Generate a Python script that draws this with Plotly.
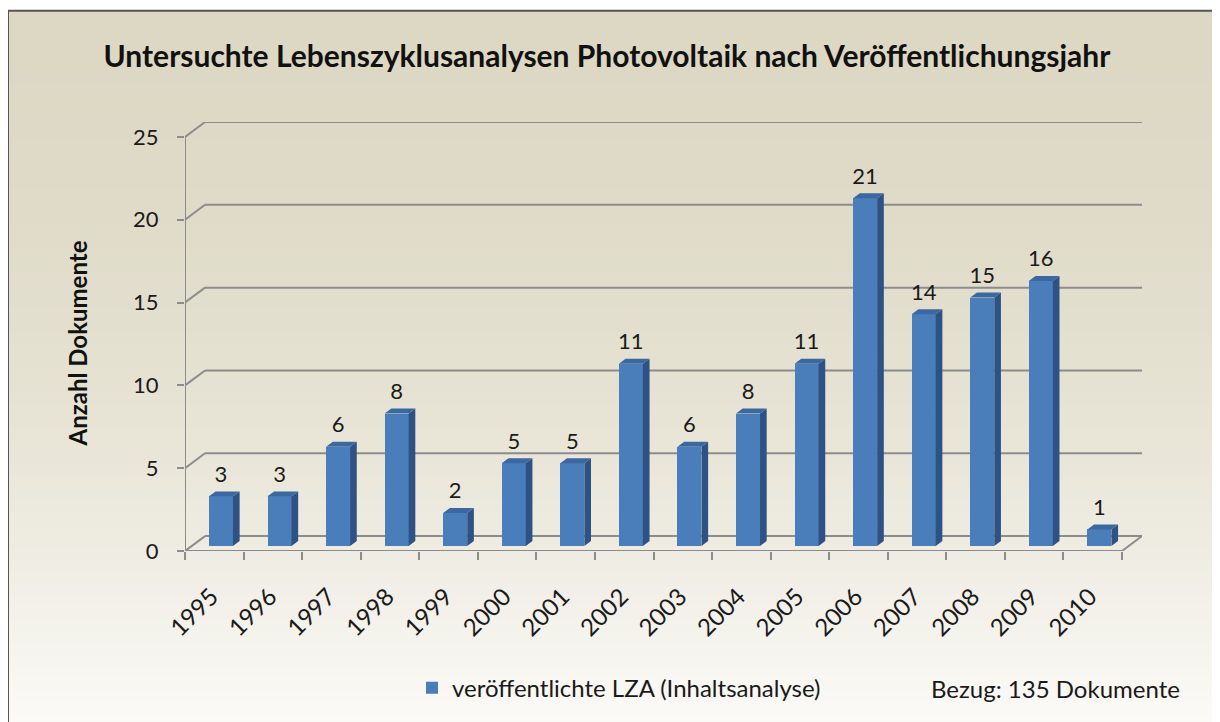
import plotly.graph_objects as go

years = ["1995", "1996", "1997", "1998", "1999", "2000", "2001", "2002",
         "2003", "2004", "2005", "2006", "2007", "2008", "2009", "2010"]
documents = [3, 3, 6, 8, 2, 5, 5, 11, 6, 8, 11, 21, 14, 15, 16, 1]
y_ticks = [0, 5, 10, 15, 20, 25]

TITLE = "Untersuchte Lebenszyklusanalysen Photovoltaik nach Veröffentlichungsjahr"
SERIES = "veröffentlichte LZA (Inhaltsanalyse)"
NOTE = "Bezug: 135 Dokumente"
YTITLE = "Anzahl Dokumente"

FONT = "Lato, 'Noto Sans', sans-serif"
TXT = "#1a1a1a"
FRONT = "#4A7EBB"
SIDE = "#2E5283"
TOP = "#3B68A0"
GRID = "#8C8C8C"

# page body adds an 8px margin, so the figure is drawn 8px smaller and everything
# below is given in window pixels and shifted by OFF
OFF = 8
W, H = 1220 - OFF, 722 - OFF
ML = 185 - OFF
MR = W - (1142 - OFF)
MT = 122 - OFF
MB = H - (554 - OFF)
plot_w = W - ML - MR
plot_h = H - MT - MB
n = len(years)


def px_x(x):  # window px -> paper x
    return (x - OFF - ML) / plot_w


def px_y(y):  # window px -> paper y
    return (H - MB - (y - OFF)) / plot_h


# pseudo-3d geometry (in axis units)
ppx = plot_w / (n + 20 / 58.5)
dxw = 20 / ppx
ppy = 417 / 25
dyw = 15 / ppy
ddx, ddy = dxw / 3, dyw / 3
bw = 0.41

fig = go.Figure()

# gradient background inside the frame
bands = 60
top_rgb = (221, 216, 196)
bot_rgb = (251, 251, 248)
y0px, y1px = 10, 730
for k in range(bands):
    a = y0px + (y1px - y0px) * k / bands
    b = y0px + (y1px - y0px) * (k + 1) / bands
    t = ((k + 0.5) / bands) ** 1.9
    c = tuple(round(top_rgb[j] + (bot_rgb[j] - top_rgb[j]) * t) for j in range(3))
    fig.add_shape(type="rect", xref="paper", yref="paper", layer="below",
                  x0=px_x(8), x1=px_x(1213), y0=px_y(b + 1), y1=px_y(a),
                  fillcolor="rgb(%d,%d,%d)" % c, line_width=0)
fig.add_shape(type="rect", xref="paper", yref="paper", layer="below",
              x0=px_x(8), x1=px_x(1213), y0=px_y(730), y1=px_y(10),
              line=dict(color="#555555", width=2), fillcolor="rgba(0,0,0,0)")

# walls / gridlines
line = dict(color=GRID, width=2)
for v in y_ticks:
    fig.add_shape(type="line", x0=dxw, x1=n + dxw, y0=v + dyw, y1=v + dyw, line=line, layer="below")
    fig.add_shape(type="line", x0=0, x1=dxw, y0=v, y1=v + dyw, line=line, layer="below")
fig.add_shape(type="line", x0=0, x1=0, y0=0, y1=25, line=line, layer="below")
fig.add_shape(type="line", x0=0, x1=n, y0=0, y1=0, line=line, layer="below")
fig.add_shape(type="line", x0=n, x1=n + dxw, y0=0, y1=dyw, line=line, layer="below")

xc = [i + 0.5 + ddx for i in range(n)]

fig.add_trace(go.Bar(
    x=xc, y=documents, base=[ddy] * n, width=bw,
    marker=dict(color=FRONT, line=dict(width=0)),
    name=SERIES, showlegend=True, hoverinfo="skip",
))

side_x, side_y, top_x, top_y = [], [], [], []
for x, v in zip(xc, documents):
    xl, xr = x - bw / 2, x + bw / 2
    b, t = ddy, ddy + v
    side_x += [xr, xr + ddx, xr + ddx, xr, xr, None]
    side_y += [b, b + ddy, t + ddy, t, b, None]
    top_x += [xl, xl + ddx, xr + ddx, xr, xl, None]
    top_y += [t, t + ddy, t + ddy, t, t, None]

fig.add_trace(go.Scatter(x=side_x, y=side_y, fill="toself", fillcolor=SIDE,
                         mode="lines", line=dict(width=0), showlegend=False, hoverinfo="skip"))
fig.add_trace(go.Scatter(x=top_x, y=top_y, fill="toself", fillcolor=TOP,
                         mode="lines", line=dict(width=0), showlegend=False, hoverinfo="skip"))

fig.add_trace(go.Scatter(
    x=xc, y=[v + 2 * ddy + 0.25 for v in documents], mode="text",
    text=[str(v) for v in documents], textposition="top center",
    textfont=dict(size=22, color=TXT, family=FONT),
    showlegend=False, hoverinfo="skip",
))

fig.add_annotation(text=NOTE, xref="paper", yref="paper",
                   x=px_x(1182), y=px_y(692),
                   xanchor="right", yanchor="middle", showarrow=False,
                   font=dict(size=24, color=TXT, family=FONT))
fig.add_annotation(text="<b>" + YTITLE + "</b>", xref="paper", yref="paper",
                   x=px_x(77), y=px_y(345), textangle=-90,
                   xanchor="center", yanchor="middle", showarrow=False,
                   font=dict(size=24, color="#111111", family=FONT))

fig.update_layout(
    width=W, height=H,
    margin=dict(l=ML, r=MR, t=MT, b=MB),
    paper_bgcolor="white",
    plot_bgcolor="rgba(0,0,0,0)",
    font=dict(family=FONT, color=TXT),
    title=dict(text="<b>" + TITLE + "</b>", x=(607 - OFF) / W, xref="container",
               xanchor="center", y=1 - (56 - OFF) / H, yref="container",
               yanchor="middle", font=dict(size=30, color="#111111")),
    bargap=0,
    showlegend=True,
    legend=dict(orientation="h", x=px_x(412), y=px_y(692),
                xanchor="left", yanchor="middle", bgcolor="rgba(0,0,0,0)",
                font=dict(size=24, color=TXT), itemwidth=30),
)
fig.update_xaxes(
    range=[0, n + dxw], showgrid=False, zeroline=False, showline=False,
    tickmode="array", tickvals=[i + 0.45 for i in range(n)], ticktext=years,
    tickangle=-45, ticks="", ticklabelstandoff=26,
    tickfont=dict(size=24, color=TXT),
    minor=dict(tickmode="array", tickvals=list(range(n + 1)), ticks="outside",
               ticklen=8, tickwidth=2, tickcolor=GRID, showgrid=False),
)
fig.update_yaxes(
    range=[0, 25 + dyw], showgrid=False, zeroline=False, showline=False,
    tickmode="array", tickvals=y_ticks, ticks="outside", ticklen=7,
    tickwidth=2, tickcolor=GRID, tickfont=dict(size=22, color=TXT),
    ticklabelstandoff=14,
)

fig.write_html("out.html")
